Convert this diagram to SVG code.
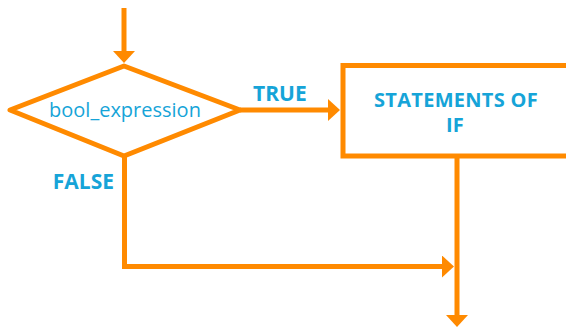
<svg xmlns="http://www.w3.org/2000/svg" width="566" height="328" viewBox="0 0 566 328">
<style>
.shape{fill:#ffffff;stroke:#ff8a00;stroke-width:5;}
.conn{fill:none;stroke:#ff8a00;stroke-width:5;stroke-linejoin:miter;}
.lbl{fill:#16a4d8;font-family:"Open Sans","Liberation Sans",sans-serif;font-size:20px;}
.b{font-weight:bold;font-size:21px;}
.bx{font-weight:bold;font-size:20px;letter-spacing:0.3px;}
</style>
<defs>
<marker id="ah" markerUnits="userSpaceOnUse" viewBox="0 0 12 22" markerWidth="12" markerHeight="22" refX="6" refY="11" orient="auto">
<path d="M0,0 L12,11 L0,22 Z" fill="#ff8a00"/>
</marker>
</defs>
<rect width="566" height="328" fill="#ffffff"/>
<g id="decision">
<polygon class="shape" points="124,66 240,110 124,156 10,110" stroke-linejoin="round"/>
<text class="lbl" x="125" y="117" text-anchor="middle">bool_expression</text>
</g>
<g id="statements">
<rect class="shape" x="343" y="65.5" width="240" height="90.5"/>
<text class="lbl bx" x="456" y="107" text-anchor="middle">STATEMENTS OF</text>
<text class="lbl bx" x="455" y="132" text-anchor="middle">IF</text>
</g>
<g id="connectors">
<line class="conn" x1="124" y1="8" x2="124" y2="57" marker-end="url(#ah)"/>
<line class="conn" x1="240" y1="110" x2="334" y2="110" marker-end="url(#ah)"/>
<polyline class="conn" points="124.5,156 124.5,266.5 448,266.5" marker-end="url(#ah)"/>
<line class="conn" x1="457" y1="156" x2="457" y2="321" marker-end="url(#ah)"/>
<text class="lbl b" x="253" y="101">TRUE</text>
<text class="lbl b" x="114" y="189" text-anchor="end">FALSE</text>
</g>
</svg>
